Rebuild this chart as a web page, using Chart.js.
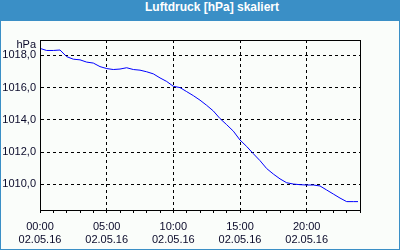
<!DOCTYPE html>
<html><head><meta charset="utf-8">
<script src="https://cdn.jsdelivr.net/npm/chart.js@4/dist/chart.umd.min.js"></script>
<style>
html,body{margin:0;padding:0;background:#fff;}
#frame{position:absolute;left:0;top:0;width:400px;height:250px;background:#3a8fc6;}
#title{position:absolute;left:0;top:0;width:400px;height:21px;line-height:20px;color:#fff;font:bold 12px "Liberation Sans",Arial,sans-serif;}
#title span{position:absolute;left:212px;transform:translateX(-50%);white-space:nowrap;top:0;}
#inner{position:absolute;left:1px;top:21px;width:398px;height:228px;background:#fafdfa;}
canvas{position:absolute;left:0;top:0;}
</style></head><body>
<div id="frame">
 <div id="title"><span>Luftdruck [hPa] skaliert</span></div>
 <div id="inner"><canvas id="c" width="398" height="228"></canvas></div>
</div>
<script>
const chartTitle = "Luftdruck [hPa] skaliert";
const unitLabel = "hPa";
const dateLabel = "02.05.16";
const hours = [0,0.5,1,1.5,2,2.5,3,3.5,4,4.5,5,5.5,6,6.5,7,7.5,8,8.5,9,9.5,10,10.5,11,11.5,12,12.5,13,13.5,14,14.5,15,15.5,16,16.5,17,17.5,18,18.5,19,19.5,20,20.5,21,21.5,22,22.5,23,23.5,23.85];
const pressure = [1018.43,1018.30,1018.30,1018.33,1017.92,1017.76,1017.72,1017.58,1017.52,1017.30,1017.18,1017.12,1017.15,1017.23,1017.12,1017.08,1016.98,1016.85,1016.60,1016.38,1016.08,1016.00,1015.75,1015.50,1015.22,1014.90,1014.55,1014.08,1013.70,1013.30,1012.75,1012.35,1011.90,1011.47,1010.98,1010.64,1010.34,1010.10,1010.02,1009.98,1009.96,1009.96,1009.90,1009.65,1009.40,1009.15,1008.93,1008.93,1008.93];
const yTicks = [1010,1012,1014,1016,1018];
const xMajor = [0,5,10,15,20];
const xMinorStep = 1;

const font = {family:'"Liberation Sans", Arial, sans-serif', size:11};
const textColor = '#0a0a2a';

const frameBox = {
  id:'frameBox',
  afterDraw(chart){
    const {ctx, chartArea:a} = chart;
    ctx.save();
    ctx.strokeStyle='#000'; ctx.lineWidth=1;
    ctx.strokeRect(Math.round(a.left)+0.5, Math.round(a.top)+0.5, Math.round(a.right-a.left), Math.round(a.bottom-a.top));
    ctx.fillStyle=textColor;
    ctx.font = '11px "Liberation Sans", Arial, sans-serif';
    ctx.textAlign='right'; ctx.textBaseline='alphabetic';
    ctx.fillText(unitLabel, Math.round(a.left)-4, Math.round(a.top)+8);
    ctx.restore();
  }
};

new Chart(document.getElementById('c'), {
  type:'line',
  data:{datasets:[{data:hours.map((h,i)=>({x:h,y:pressure[i]})), borderColor:'#0000ff', borderWidth:1, pointRadius:0, tension:0, fill:false}]},
  options:{
    responsive:false, animation:false,
    layout:{padding:{left:0,top:19,right:39,bottom:0}},
    plugins:{legend:{display:false},tooltip:{enabled:false},title:{display:false}},
    scales:{
      x:{type:'linear', min:0, max:24,
        afterBuildTicks(s){const t=[];for(let v=0;v<=24;v+=xMinorStep)t.push({value:v});s.ticks=t;},
        afterFit(s){s.height=39;},
        ticks:{autoSkip:false,maxRotation:0,minRotation:0,padding:7,color:textColor,font:{...font,lineHeight:1.18},
          callback:(v)=> xMajor.includes(v) ? [String(v).padStart(2,'0')+':00', dateLabel] : ''},
        grid:{drawTicks:true,tickLength:3,tickColor:'#000',
          color:(c)=> (c.tick && xMajor.includes(c.tick.value) && c.tick.value>0) ? '#000' : 'rgba(0,0,0,0)'},
        border:{display:true,color:'#000',width:1,dash:[3,3]}
      },
      y:{type:'linear', min:1008.41, max:1018.95,
        afterBuildTicks(s){s.ticks=yTicks.map(v=>({value:v}));},
        afterFit(s){s.width=39;},
        ticks:{padding:4,color:textColor,font:font,callback:(v)=>v.toFixed(1).replace('.',',')},
        grid:{drawTicks:false,color:'#000'},
        border:{display:true,color:'#000',width:1,dash:[3,3]}
      }
    }
  },
  plugins:[frameBox]
});
</script>
</body></html>
